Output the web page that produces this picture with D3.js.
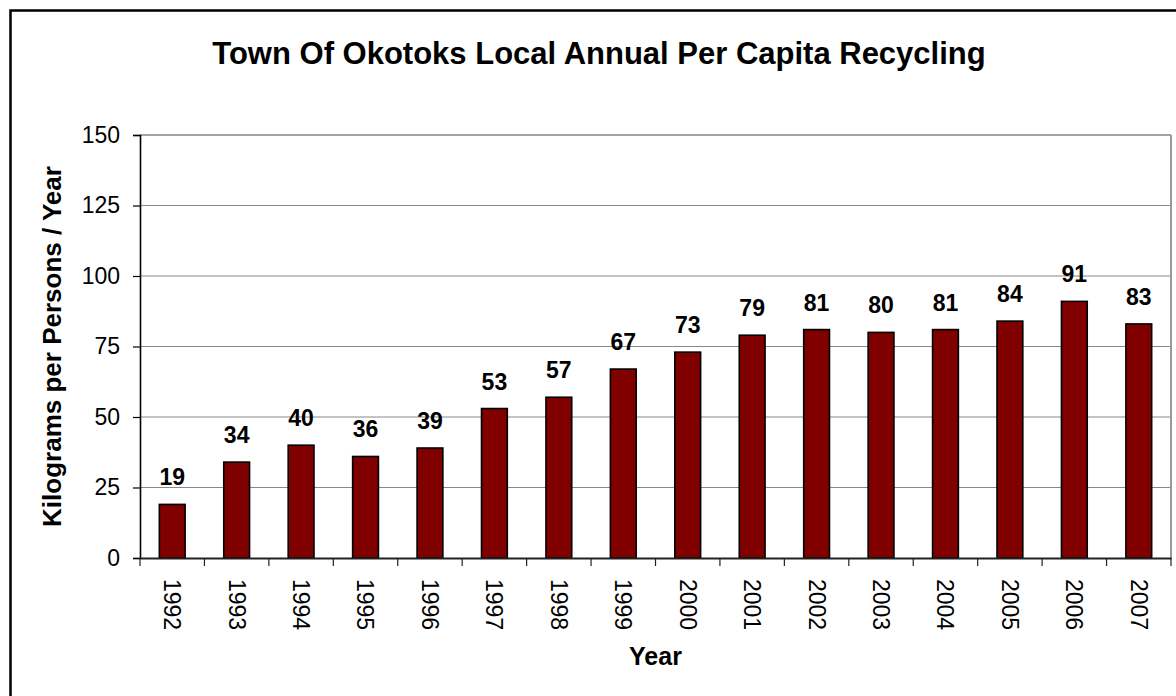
<!DOCTYPE html>
<html>
<head>
<meta charset="utf-8">
<script src="https://cdn.jsdelivr.net/npm/d3@7"></script>
<style>
  html, body { margin: 0; padding: 0; background: #fff; }
  svg { display: block; font-family: "Liberation Sans", Arial, sans-serif; }
</style>
</head>
<body>
<svg id="chart" width="1176" height="696"></svg>
<script>
const years = ["1992","1993","1994","1995","1996","1997","1998","1999","2000","2001","2002","2003","2004","2005","2006","2007"];
const values = [19, 34, 40, 36, 39, 53, 57, 67, 73, 79, 81, 80, 81, 84, 91, 83];
const yTicks = [0, 25, 50, 75, 100, 125, 150];
const titleText = "Town Of Okotoks Local Annual Per Capita Recycling";
const xTitle = "Year";
const yTitle = "Kilograms per Persons / Year";

const svg = d3.select("#chart");
const W = 1176, H = 696;
const plot = { left: 140, right: 1171, top: 135, bottom: 558 };

// outer frame
svg.append("rect")
  .attr("x", 10.5).attr("y", 10.5)
  .attr("width", W + 20).attr("height", H + 20)
  .attr("fill", "#fff").attr("stroke", "#000").attr("stroke-width", 2.5);

const x = d3.scaleBand().domain(years).range([plot.left, plot.right]).paddingInner(0).paddingOuter(0);
const y = d3.scaleLinear().domain([0, 150]).range([plot.bottom, plot.top]);

// gridlines
svg.append("g").selectAll("line").data(yTicks.filter(d => d > 0)).join("line")
  .attr("x1", plot.left).attr("x2", plot.right)
  .attr("y1", d => y(d)).attr("y2", d => y(d))
  .attr("stroke", "#888").attr("stroke-width", 1.2);

// plot area right/top border
svg.append("line")
  .attr("x1", plot.right).attr("x2", plot.right)
  .attr("y1", plot.top).attr("y2", plot.bottom)
  .attr("stroke", "#999").attr("stroke-width", 2);
svg.append("line")
  .attr("x1", plot.left).attr("x2", plot.right)
  .attr("y1", plot.top).attr("y2", plot.top)
  .attr("stroke", "#999").attr("stroke-width", 1.5);

// bars
const bw = x.bandwidth() * 0.4;
svg.append("g").selectAll("rect").data(values).join("rect")
  .attr("x", (d, i) => x(years[i]) + x.bandwidth() / 2 - bw / 2)
  .attr("y", d => y(d))
  .attr("width", bw)
  .attr("height", d => plot.bottom - y(d))
  .attr("fill", "#800000")
  .attr("stroke", "#000").attr("stroke-width", 1.6);

// value labels
svg.append("g").selectAll("text").data(values).join("text")
  .attr("x", (d, i) => x(years[i]) + x.bandwidth() / 2)
  .attr("y", d => y(d) - 19)
  .attr("text-anchor", "middle")
  .attr("font-size", 23).attr("font-weight", "bold")
  .text(d => d);

// y axis
const yAxis = d3.axisLeft(y).tickValues(yTicks).tickSize(7).tickPadding(13);
const gy = svg.append("g").attr("transform", `translate(${plot.left},0)`).call(yAxis);
gy.select(".domain").attr("stroke", "#000").attr("stroke-width", 1.6);
gy.selectAll(".tick line").attr("stroke", "#000").attr("stroke-width", 1.2);
gy.selectAll(".tick text").attr("font-size", 23).attr("fill", "#000")
  .attr("font-family", "Liberation Sans, Arial, sans-serif");

// x axis
const xAxis = d3.axisBottom(x).tickSize(0).tickFormat(d => d);
const gx = svg.append("g").attr("transform", `translate(0,${plot.bottom})`).call(xAxis);
gx.select(".domain").attr("stroke", "#222").attr("stroke-width", 2);
gx.selectAll(".tick text")
  .attr("font-size", 23).attr("fill", "#000")
  .attr("font-family", "Liberation Sans, Arial, sans-serif")
  .attr("transform", "rotate(90)")
  .attr("x", 21).attr("y", 0).attr("dy", "0.35em")
  .attr("text-anchor", "start");
// boundary ticks
const bounds = years.map(d => x(d)).concat([plot.right]);
svg.append("g").selectAll("line").data(bounds).join("line")
  .attr("x1", d => d).attr("x2", d => d)
  .attr("y1", plot.bottom).attr("y2", plot.bottom + 8)
  .attr("stroke", "#222").attr("stroke-width", 1.2);

// titles
svg.append("text")
  .attr("x", 599).attr("y", 64)
  .attr("text-anchor", "middle")
  .attr("font-size", 31).attr("font-weight", "bold")
  .text(titleText);

svg.append("text")
  .attr("x", (plot.left + plot.right) / 2).attr("y", 665)
  .attr("text-anchor", "middle")
  .attr("font-size", 25).attr("font-weight", "bold")
  .text(xTitle);

svg.append("text")
  .attr("transform", `translate(61,${(plot.top + plot.bottom) / 2}) rotate(-90)`)
  .attr("text-anchor", "middle")
  .attr("font-size", 26).attr("font-weight", "bold")
  .text(yTitle);
</script>
</body>
</html>
